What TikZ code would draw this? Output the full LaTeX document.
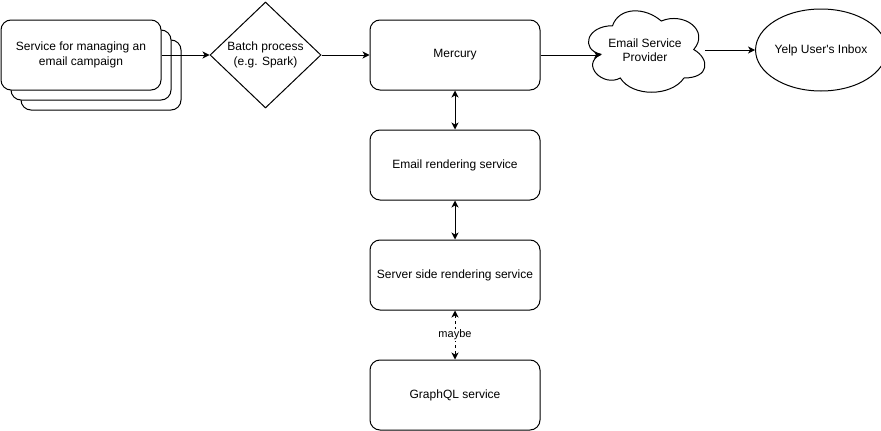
\documentclass[tikz,border=0pt]{standalone}
\usepackage{fontspec}
\setmainfont{Liberation Sans}
\usetikzlibrary{arrows.meta,shapes.geometric}
\begin{document}
\begin{tikzpicture}[x=1pt,y=-1pt,
  every node/.style={font=\fontsize{12}{14.5}\selectfont},
  box/.style={draw,line width=1pt,rounded corners=10pt,fill=white,inner sep=0pt,
    minimum width=170pt,minimum height=70pt,align=center},
  stackbox/.style={box,minimum width=160pt},
  arr/.style={line width=1pt,-{Stealth[length=7pt,width=7pt,inset=2pt]}},
  biarr/.style={line width=1pt,{Stealth[length=7pt,width=7pt,inset=2pt]}-{Stealth[length=7pt,width=7pt,inset=2pt]}},
  lbl/.style={font=\fontsize{11}{13}\selectfont,fill=white,inner sep=1pt}]
\useasboundingbox (0,0) rectangle (881,431);
% stacked boxes
\node[stackbox] (svc3) at (101,75) {};
\node[stackbox] (svc2) at (91,65) {};
\node[stackbox] (svc) at (81,55) {Service for managing an\\email campaign};
% diamond
\node[draw,line width=1pt,diamond,inner sep=0pt,minimum width=111pt,minimum height=106pt,align=center] (batch) at (265.5,55) {Batch process\\(e.g. Spark)};
% main column
\node[box] (merc) at (455,55) {Mercury};
\node[box] (rend) at (455,165) {Email rendering service};
\node[box] (ssr) at (455,275) {Server side rendering service};
\node[box] (gql) at (455,395) {GraphQL service};
% cloud
\draw[line width=1pt,fill=white] (612.5,25.75)
  .. controls (586.5,25.75) and (580,49.5) .. (600.8,54.25)
  .. controls (580,64.7) and (603.4,87.5) .. (620.3,78)
  .. controls (632,97) and (671,97) .. (684,78)
  .. controls (710,78) and (710,59) .. (693.75,49.5)
  .. controls (710,30.5) and (684,11.5) .. (661.25,21)
  .. controls (645,6.75) and (619,6.75) .. (612.5,25.75) -- cycle;
\node[align=center] (esp) at (645,50) {Email Service\\Provider};
\coordinate (espL) at (601,55);
\coordinate (espR) at (705,50);
% ellipse
\node[draw,line width=1pt,ellipse,inner sep=0pt,minimum width=118pt,minimum height=82pt] (inbox) at (821,50) {Yelp User\textquotesingle s Inbox};
% connectors
\draw[arr] (svc.east) -- (batch.west);
\draw[arr] (batch.east) -- (merc.west);
\draw[arr] (merc.east) -- (espL);
\draw[arr] (espR) -- (inbox);
\draw[biarr] (merc.south) -- (rend.north);
\draw[biarr] (rend.south) -- (ssr.north);
\draw[biarr,dash pattern=on 3pt off 3pt] (ssr.south) -- node[lbl] (maybe) {maybe} (gql.north);
\end{tikzpicture}
\end{document}
